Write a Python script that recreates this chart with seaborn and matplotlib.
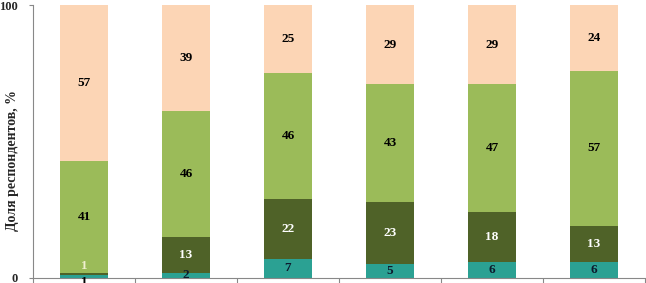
import matplotlib
matplotlib.use("Agg")
import matplotlib.pyplot as plt
import seaborn as sns
import numpy as np
import pandas as pd

categories = ["1", "2", "3", "4", "5", "6"]
teal_vals = [1, 2, 7, 5, 6, 6]
dark_vals = [1, 13, 22, 23, 18, 13]
light_vals = [41, 46, 46, 43, 47, 57]
peach_vals = [57, 39, 25, 29, 29, 24]

series = [
    (teal_vals, "#2BA193", "#0d1a2e"),
    (dark_vals, "#4F6228", "white"),
    (light_vals, "#9BBB59", "black"),
    (peach_vals, "#FCD5B5", "black"),
]

sns.set_theme(style="white")
plt.rcParams["font.family"] = ["Liberation Serif", "DejaVu Serif"]

fig = plt.figure(figsize=(6.46, 2.83), dpi=100)
ax = fig.add_axes([33/646, (283-278)/283, (645-33)/646, (278-5)/283])

bottom = np.zeros(len(categories))
for si, (vals, color, tcol) in enumerate(series):
    df = pd.DataFrame({"cat": categories, "val": vals})
    sns.barplot(data=df, x="cat", y="val", color=color, bottom=bottom,
                width=0.48, ax=ax, saturation=1, edgecolor="none", linewidth=0)
    for i, v in enumerate(vals):
        yc = bottom[i] + v / 2
        col = tcol
        if v < 2 and si == 0:
            yc = -1.6
            col = "black"
        elif v < 2 and si == 1:
            yc = bottom[i] + 3.3
            col = "#f0f0d0"
        ax.text(i, yc, str(v), ha="center", va="center", fontsize=9.5,
                fontweight="bold", color=col, clip_on=False)
    bottom = bottom + np.array(vals)

ax.set_xlim(-0.5, 5.5)
ax.set_ylim(0, 100)
ax.set_xticks(np.arange(-0.5, 6.0, 1.0))
ax.set_xticklabels([])
ax.set_yticks([0, 100])
ax.set_yticklabels(["0", "100"], fontweight="bold", fontsize=9)
ax.set_xlabel("")
ax.set_ylabel("Доля респондентов, %", fontweight="bold", fontsize=10)
ax.yaxis.set_label_coords(-33/612 + 13/612, (278-161)/273)
ax.yaxis.label.set_va("center")
ax.tick_params(axis="x", direction="out", length=4, width=0.8, color="#888888", bottom=True)
ax.tick_params(axis="y", direction="out", length=3, width=0.8, color="#888888", left=True, pad=8)
for s in ["top", "right"]:
    ax.spines[s].set_visible(False)
for s in ["left", "bottom"]:
    ax.spines[s].set_color("#888888")
    ax.spines[s].set_linewidth(0.8)

fig.savefig("out.png", dpi=100)
